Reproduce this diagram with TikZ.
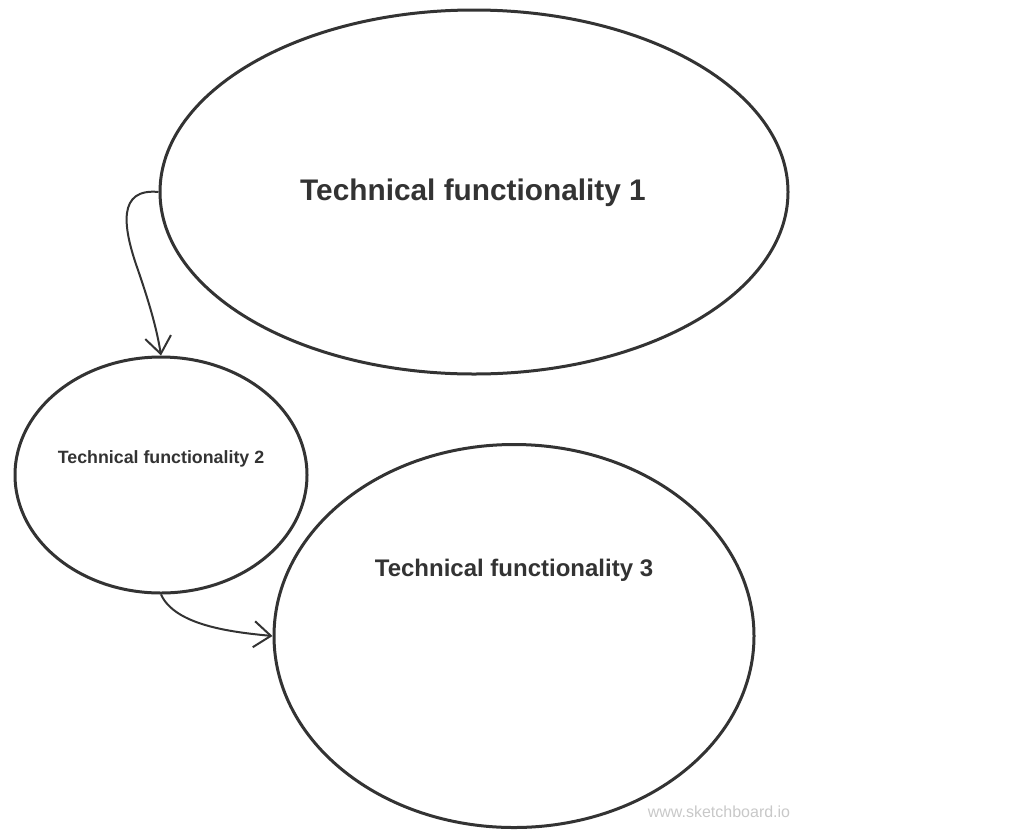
\documentclass[tikz,border=0pt]{standalone}
\usepackage{fontspec}
\setmainfont{Liberation Sans}
\usetikzlibrary{shapes.geometric,arrows.meta}
\definecolor{ink}{HTML}{333333}
\definecolor{mark}{HTML}{C8C8C8}
\tikzset{
  blob/.style={ellipse,draw=ink,line width=3pt,inner sep=0pt},
  lbl/.style={text=ink,font=\bfseries,inner sep=0pt},
  link/.style={draw=ink,line width=2pt,-{Straight Barb[length=17pt,width=26pt,line width=2pt]}}
}
\begin{document}
\begin{tikzpicture}[x=1pt,y=-1pt]
\useasboundingbox (0,0) rectangle (1024,833);
\node[blob,minimum width=628pt,minimum height=364pt] (e1) at (474,192) {};
\node[blob,minimum width=292pt,minimum height=236pt] (e2) at (161,475) {};
\node[blob,minimum width=480pt,minimum height=383pt] (e3) at (514,636) {};
\node[lbl,font=\bfseries\fontsize{29.8}{32}\selectfont] (t1) at (473,193) {Technical functionality 1};
\node[lbl,font=\bfseries\fontsize{17.8}{20}\selectfont] (t2) at (161,459) {Technical functionality 2};
\node[lbl,font=\bfseries\fontsize{24}{26}\selectfont] (t3) at (514,570) {Technical functionality 3};
\node[text=mark,font=\fontsize{16}{18}\selectfont,inner sep=0pt] (wm) at (719,812) {www.sketchboard.io};
\draw[link] (e1.west) .. controls (118,188) and (122,225) .. (138,270) .. controls (150,305) and (157,330) .. (e2.north);
\draw[link] (e2.south) .. controls (175,625) and (230,632) .. (e3.west);
\end{tikzpicture}
\end{document}
